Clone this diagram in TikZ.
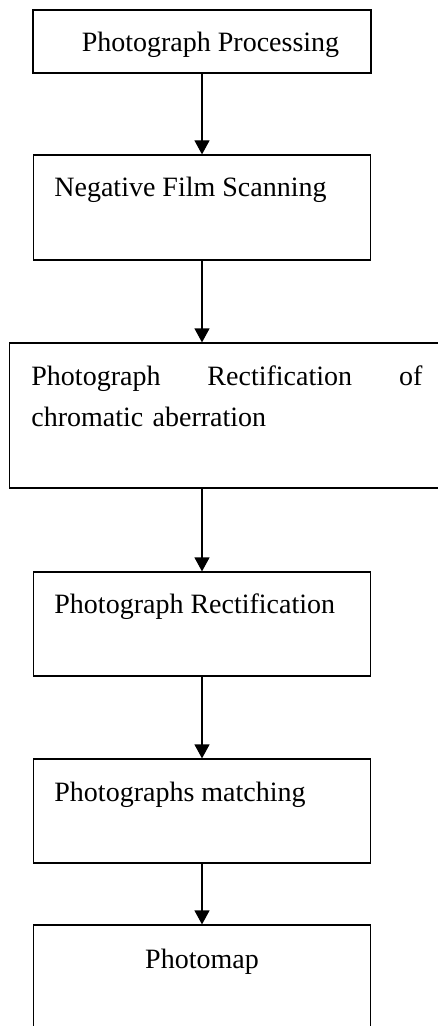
\documentclass[tikz,border=0pt]{standalone}
\usepackage{fontspec}
\setmainfont{Liberation Serif}
\usetikzlibrary{arrows.meta}

\begin{document}
\begin{tikzpicture}[x=0.5pt, y=-0.5pt, font=\fontsize{14pt}{20.5pt}\selectfont]

        % Setup the styles for the boxes, texts and arrows
        \tikzset{box style/.style={draw,
                                   rectangle,
                                   line width=0.6pt,
                                   minimum width=168.5pt,
                                   inner sep=0pt},
                 text style/.style={anchor=base west,
                                    inner sep=0pt},
                 flow arrow/.style={line width=0.6pt,
                                    -{Triangle[width=7.5pt, length=7pt]}}}

        \clip (0, 0) rectangle (438, 1026);
        \useasboundingbox (0, 0) rectangle (438, 1026);

        % Draw the boxes
        \node[box style, minimum width=169pt, minimum height=31.5pt] at (202, 41.5)   (proc)   {};
        \node[box style, minimum height=52.5pt]                     at (202, 207.5)  (scan)   {};
        \node[box style, minimum width=218pt, minimum height=72.5pt] at (227.5, 415.5) (chrom)  {};
        \node[box style, minimum height=52pt]                       at (202, 624)    (rect)   {};
        \node[box style, minimum height=52pt]                       at (202, 811)    (match)  {};
        \node[box style, minimum height=60pt]                       at (202, 985)    (map)    {};

        % Write the texts
        \node[text style, anchor=base] at (210.5, 52) (proc text)  {Photograph Processing};
        \node[text style]              at (54, 197)   (scan text)  {Negative Film Scanning};
        \node[text style, anchor=north west, text width=195.5pt]
                                       at (31, 365)   (chrom text)
            {Photograph\hfill Rectification\hfill of\\chromatic aberration};
        \node[text style]              at (54, 613)   (rect text)  {Photograph Rectification};
        \node[text style]              at (54, 801)   (match text) {Photographs matching};
        \node[text style, anchor=base] at (202, 968)  (map text)   {Photomap};

        % Connect the boxes with arrows
        \draw[flow arrow] (proc)  -- (scan);
        \draw[flow arrow] (scan)  -- (chrom.north -| scan);
        \draw[flow arrow] (chrom.south -| rect) -- (rect);
        \draw[flow arrow] (rect)  -- (match);
        \draw[flow arrow] (match) -- (map);
\end{tikzpicture}
\end{document}
